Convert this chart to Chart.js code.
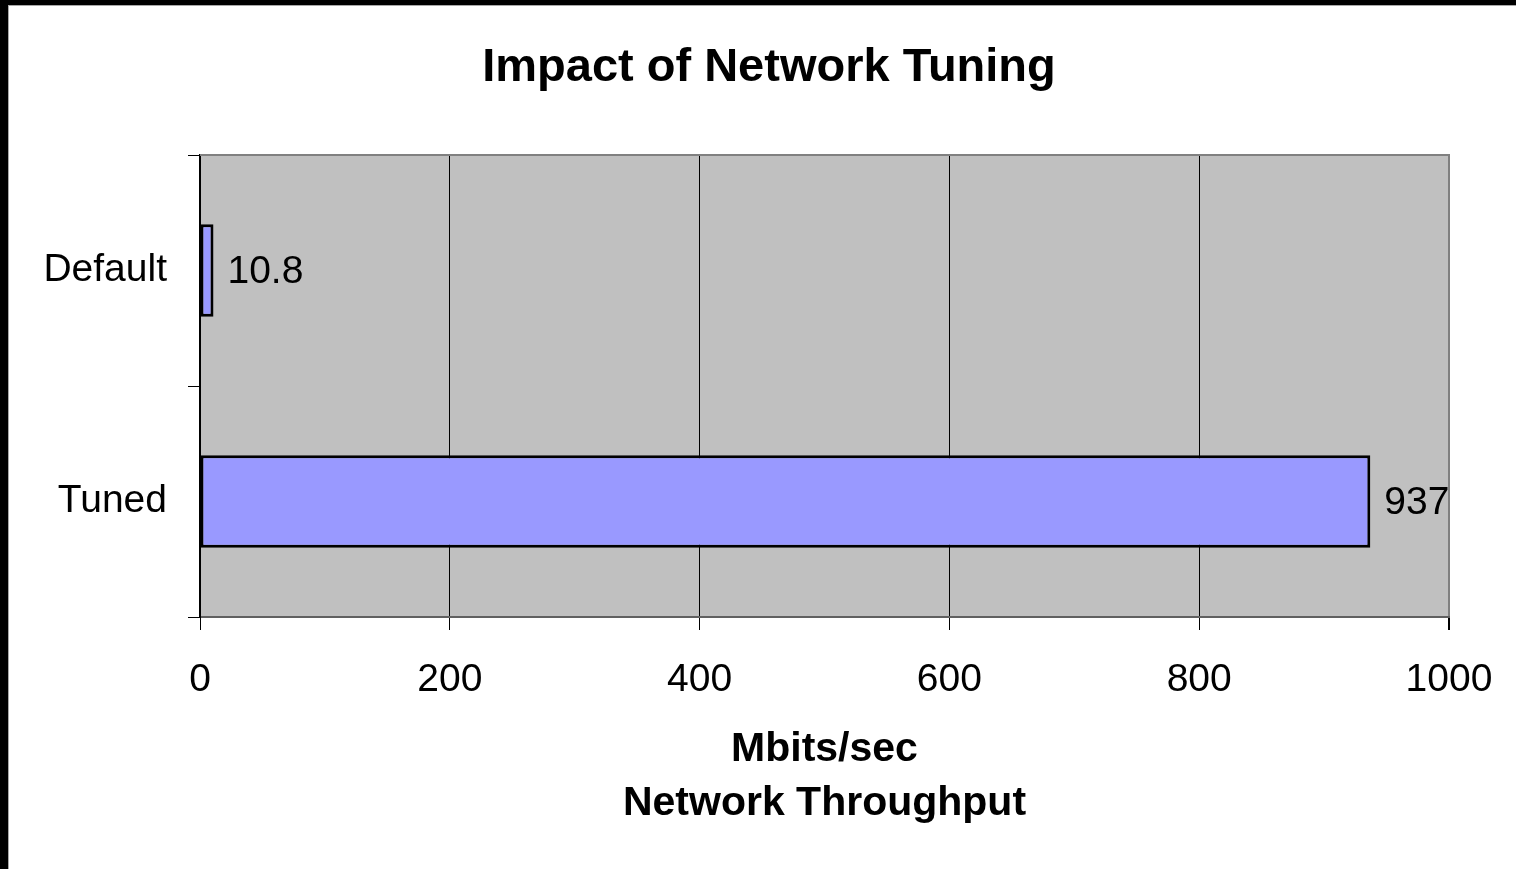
<!DOCTYPE html>
<html>
<head>
<meta charset="utf-8">
<title>Impact of Network Tuning</title>
<script src="https://cdn.jsdelivr.net/npm/chart.js@4.4.1/dist/chart.umd.min.js"></script>
<style>
  html, body { margin: 0; padding: 0; background: #ffffff; overflow: hidden; }
  #frame {
    position: absolute; left: 0; top: 0; width: 1516px; height: 869px;
    box-sizing: border-box;
    border-left: 8px solid #000000; border-top: 5px solid #000000;
  }
  #inner {
    position: absolute; left: 0; top: 0; right: 0; bottom: 0;
    border-left: 1px solid #a8a8a8; border-top: 1px solid #a8a8a8;
  }
  canvas { position: absolute; left: 0; top: 0; }
</style>
</head>
<body>
<div id="frame"><div id="inner"><canvas id="chart" width="1507" height="863"></canvas></div></div>
<script>
// Throughput per configuration, Mbits/sec
const categories = ['Default', 'Tuned'];
const throughput = [10.8, 937];
const axisRange = { min: 0, max: 1000, step: 200 };
const chartTitle = 'Impact of Network Tuning';
const axisTitle = ['Mbits/sec', 'Network Throughput'];

const FONT = "'Liberation Sans', Arial, Helvetica, sans-serif";

// grey plot background plus the top frame line
const plotFrame = {
  id: 'plotFrame',
  beforeDraw(chart) {
    const { ctx, chartArea: a } = chart;
    ctx.save();
    ctx.fillStyle = '#c0c0c0';
    ctx.fillRect(a.left, a.top, a.right - a.left, a.bottom - a.top);
    ctx.restore();
  },
  afterDraw(chart) {
    const { ctx, chartArea: a } = chart;
    ctx.save();
    ctx.strokeStyle = '#808080';
    ctx.lineWidth = 2;
    ctx.beginPath();
    ctx.moveTo(a.left, a.top);
    ctx.lineTo(a.right + 1, a.top);
    ctx.stroke();
    ctx.restore();
  }
};

// numeric label to the right of each bar
const valueLabels = {
  id: 'valueLabels',
  afterDatasetsDraw(chart) {
    const { ctx } = chart;
    const meta = chart.getDatasetMeta(0);
    const values = chart.data.datasets[0].data;
    ctx.save();
    ctx.font = '39px ' + FONT;
    ctx.fillStyle = '#000000';
    ctx.textAlign = 'left';
    ctx.textBaseline = 'middle';
    meta.data.forEach((bar, i) => {
      ctx.fillText(String(values[i]), bar.x + 14, bar.y + 2);
    });
    ctx.restore();
  }
};

// chart heading, centred on the page
const heading = {
  id: 'heading',
  afterDraw(chart) {
    const { ctx } = chart;
    ctx.save();
    ctx.font = 'bold 47px ' + FONT;
    ctx.fillStyle = '#000000';
    ctx.textAlign = 'center';
    ctx.textBaseline = 'middle';
    ctx.fillText(chartTitle, 760, 62);
    ctx.restore();
  }
};

new Chart(document.getElementById('chart'), {
  type: 'bar',
  data: {
    labels: categories,
    datasets: [{
      data: throughput,
      backgroundColor: '#9999ff',
      borderColor: '#000000',
      borderWidth: 3,
      borderSkipped: false,
      barPercentage: 0.4,
      categoryPercentage: 1.0
    }]
  },
  options: {
    indexAxis: 'y',
    responsive: false,
    animation: false,
    devicePixelRatio: 1,
    layout: { padding: { top: 149, right: 67, left: 0, bottom: 0 } },
    plugins: {
      legend: { display: false },
      title: { display: false },
      tooltip: { enabled: false }
    },
    scales: {
      x: {
        type: 'linear',
        min: axisRange.min,
        max: axisRange.max,
        afterFit(scale) {
          scale.height = 252;
          // the outer layout padding already leaves room for the end labels
          scale.paddingLeft = 0;
          scale.paddingRight = 0;
        },
        ticks: {
          stepSize: axisRange.step,
          color: '#000000',
          padding: 27,
          font: { family: FONT, size: 39 },
          callback: (v) => String(v)
        },
        grid: {
          color: (c) => (c.index === 5 ? '#808080' : '#000000'),
          lineWidth: (c) => (c.index === 5 ? 2 : 1),
          tickColor: '#000000',
          tickLength: 13
        },
        border: { display: true, color: '#606060', width: 2 },
        title: {
          display: true,
          text: axisTitle,
          color: '#000000',
          font: { family: FONT, size: 41, weight: 'bold', lineHeight: 1.3 },
          padding: { top: 0, bottom: 39 }
        }
      },
      y: {
        type: 'category',
        afterFit(scale) { scale.width = 191; },
        ticks: {
          color: '#000000',
          padding: 21,
          font: { family: FONT, size: 39 }
        },
        grid: {
          drawOnChartArea: false,
          color: '#000000',
          tickLength: 12,
          offset: true
        },
        border: { display: true, color: '#000000', width: 2 }
      }
    }
  },
  plugins: [plotFrame, valueLabels, heading]
});
</script>
</body>
</html>
